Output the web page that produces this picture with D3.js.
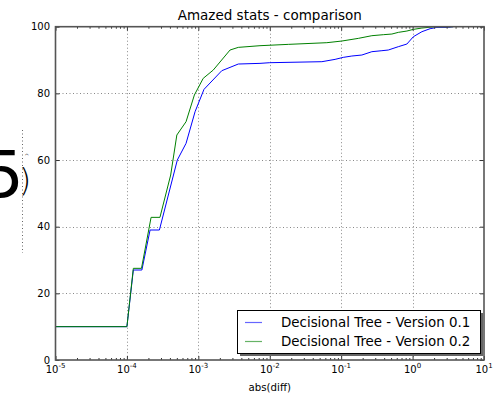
<!DOCTYPE html>
<html>
<head>
<meta charset="utf-8">
<script src="https://cdn.jsdelivr.net/npm/d3@7"></script>
<style>
	body { margin: 0; background: #fff; }
	svg { font-family: "DejaVu Sans", sans-serif; }
</style>
</head>
<body>
<svg id="chart" width="497" height="395"></svg>
<script>
// values
var seriesNames = ["Decisional Tree - Version 0.1", "Decisional Tree - Version 0.2"];
var seriesColors = ["#0000ff", "#008000"];

var blueX = [1e-5, 1e-4, 1.23e-4, 1.62e-4, 2.11e-4, 2.85e-4, 5.08e-4, 6.73e-4, 9e-4, 1.2e-3, 2.13e-3,
	3.63e-3, 7.3e-3, 1e-2, 5.37e-2, 8.22e-2, 0.107, 0.141, 0.195, 0.269, 0.372, 0.457, 0.631, 0.832,
	1.026, 1.35, 1.76, 2.19, 3.16, 3.72];
var blueY = [10, 10, 27, 27, 39, 39, 60, 65, 74.5, 81.2, 86.8,
	88.8, 89, 89.2, 89.5, 90.2, 90.8, 91.2, 91.5, 92.5, 92.8, 93, 94, 94.8,
	97, 98.5, 99.4, 99.8, 99.8, 100];

var greenX = [1e-5, 1e-4, 1.23e-4, 1.6e-4, 2.18e-4, 2.9e-4, 4.1e-4, 5e-4, 6.73e-4, 8.8e-4, 1.17e-3,
	1.62e-3, 2.78e-3, 3.63e-3, 7.3e-3, 1.82e-2, 6.3e-2, 0.102, 0.174, 0.269, 0.389, 0.513, 0.631,
	0.832, 1.026, 1.35, 2.07, 3.69];
var greenY = [10, 10, 27.5, 27.5, 42.8, 42.8, 55.5, 67.5, 71.5, 79.5, 84.5,
	87, 93, 93.8, 94.3, 94.7, 95.2, 95.7, 96.5, 97.3, 97.6, 97.8, 98.3,
	98.7, 99.2, 99.6, 100, 100];

var xExponents = [-5, -4, -3, -2, -1, 0, 1];
var yTicks = [0, 20, 40, 60, 80, 100];

// note: "top" is taken by window.top, so prefix these
var plotLeft = 55.5, plotRight = 484, plotTop = 26.7, plotBottom = 360;

var svg = d3.select("#chart");

var x = d3.scaleLog()
	.domain([1e-5, 10])
	.range([plotLeft, plotRight]);

var y = d3.scaleLinear()
	.domain([0, 100])
	.range([plotBottom, plotTop]);

var majors = xExponents.map(function(e) { return Math.pow(10, e); });
var minors = [];
for (var e = -5; e < 1; e++) {
	for (var k = 2; k < 10; k++) minors.push(k * Math.pow(10, e));
}

// grid
var grid = svg.append("g").attr("class", "grid")
	.attr("stroke", "#888")
	.attr("stroke-width", 1)
	.attr("stroke-dasharray", "1,2.5");

grid.selectAll("line.gx")
	.data(majors.slice(1, -1))
.enter().append("line")
	.attr("x1", function(d) { return Math.round(x(d)) + 0.5; })
	.attr("x2", function(d) { return Math.round(x(d)) + 0.5; })
	.attr("y1", plotTop)
	.attr("y2", plotBottom);

grid.selectAll("line.gy")
	.data(yTicks.slice(1, -1))
.enter().append("line")
	.attr("x1", plotLeft)
	.attr("x2", plotRight)
	.attr("y1", function(d) { return Math.round(y(d)) + 0.5; })
	.attr("y2", function(d) { return Math.round(y(d)) + 0.5; });

// curves
var line = d3.line()
	.x(function(d) { return x(d[0]); })
	.y(function(d) { return y(d[1]); });

var blueData = d3.zip(blueX, blueY);
var greenData = d3.zip(greenX, greenY);

svg.append("path")
	.datum(blueData)
	.attr("fill", "none")
	.attr("stroke", seriesColors[0])
	.attr("stroke-width", 1)
	.attr("d", line);

svg.append("path")
	.datum(greenData)
	.attr("fill", "none")
	.attr("stroke", seriesColors[1])
	.attr("stroke-width", 1)
	.attr("d", line);

// axes (ticks point inward, on every side)
function styleAxis(g) {
	g.select(".domain").remove();
	g.selectAll(".tick line").attr("stroke", "#333");
	g.selectAll(".tick text").remove();
}

svg.append("g")
	.attr("transform", "translate(0," + plotBottom + ")")
	.call(d3.axisBottom(x).tickValues(majors).tickSize(-4).tickFormat(""))
	.call(styleAxis);
svg.append("g")
	.attr("transform", "translate(0," + plotBottom + ")")
	.call(d3.axisBottom(x).tickValues(minors).tickSize(-2).tickFormat(""))
	.call(styleAxis);
svg.append("g")
	.attr("transform", "translate(0," + plotTop + ")")
	.call(d3.axisTop(x).tickValues(majors).tickSize(-4).tickFormat(""))
	.call(styleAxis);
svg.append("g")
	.attr("transform", "translate(0," + plotTop + ")")
	.call(d3.axisTop(x).tickValues(minors).tickSize(-2).tickFormat(""))
	.call(styleAxis);
svg.append("g")
	.attr("transform", "translate(" + plotLeft + ",0)")
	.call(d3.axisLeft(y).tickValues(yTicks).tickSize(-4).tickFormat(""))
	.call(styleAxis);
svg.append("g")
	.attr("transform", "translate(" + plotRight + ",0)")
	.call(d3.axisRight(y).tickValues(yTicks).tickSize(-4).tickFormat(""))
	.call(styleAxis);

// frame
svg.append("rect")
	.attr("x", plotLeft)
	.attr("y", plotTop)
	.attr("width", plotRight - plotLeft)
	.attr("height", plotBottom - plotTop)
	.attr("fill", "none")
	.attr("stroke", "#555")
	.attr("stroke-width", 1.6);

// tick labels
var xl = svg.append("g").selectAll("text")
	.data(xExponents)
.enter().append("text")
	.attr("x", function(d) { return x(Math.pow(10, d)); })
	.attr("y", 373)
	.attr("text-anchor", "middle")
	.attr("font-size", "10px")
	.attr("fill", "#000");
xl.append("tspan").text("10");
xl.append("tspan")
	.attr("dy", -5)
	.attr("font-size", "7px")
	.text(function(d) { return d; });

svg.append("g").selectAll("text")
	.data(yTicks)
.enter().append("text")
	.attr("x", 50)
	.attr("y", function(d) { return y(d) + 3.5; })
	.attr("text-anchor", "end")
	.attr("font-size", "10px")
	.attr("fill", "#000")
	.text(function(d) { return d; });

// title and axis labels
svg.append("text")
	.attr("x", (plotLeft + plotRight) / 2)
	.attr("y", 20)
	.attr("text-anchor", "middle")
	.attr("font-size", "13.5px")
	.text("Amazed stats - comparison");

svg.append("text")
	.attr("x", (plotLeft + plotRight) / 2)
	.attr("y", 391)
	.attr("text-anchor", "middle")
	.attr("font-size", "10.2px")
	.text("abs(diff)");

// the clipped y label at the far left, kept as one text
var ylab = svg.append("text")
	.attr("x", -17)
	.attr("y", 197);
ylab.append("tspan")
	.attr("font-size", "64px")
	.text("5");
ylab.append("tspan")
	.attr("dx", -5)
	.attr("dy", -6)
	.attr("font-size", "32px")
	.attr("font-weight", "100")
	.text(")");
ylab.append("tspan")
	.attr("dx", -7)
	.attr("dy", -33)
	.attr("font-size", "6px")
	.text("^");
svg.append("line")
	.attr("x1", 22.5).attr("x2", 22.5)
	.attr("y1", 130).attr("y2", 253)
	.attr("stroke", "#666")
	.attr("stroke-dasharray", "1,2.5");

// legend
var lx = 237, ly = 310, lw = 243, lh = 43;
svg.append("rect")
	.attr("x", lx + 3).attr("y", ly + 3)
	.attr("width", lw).attr("height", lh)
	.attr("fill", "#666");
svg.append("rect")
	.attr("x", lx + 0.5).attr("y", ly + 0.5)
	.attr("width", lw).attr("height", lh)
	.attr("fill", "#fff")
	.attr("stroke", "#000")
	.attr("stroke-width", 1);

var item = svg.append("g").selectAll("g")
	.data(seriesNames)
.enter().append("g")
	.attr("transform", function(d, i) { return "translate(0," + (ly + 12.5 + i * 19) + ")"; });
item.append("line")
	.attr("x1", 245).attr("x2", 262)
	.attr("stroke", function(d, i) { return seriesColors[i]; })
	.attr("stroke-opacity", 0.6)
	.attr("stroke-width", 1.2);
item.append("text")
	.attr("x", 281)
	.attr("y", 4.5)
	.attr("font-size", "13.4px")
	.text(function(d) { return d; });
</script>
</body>
</html>
